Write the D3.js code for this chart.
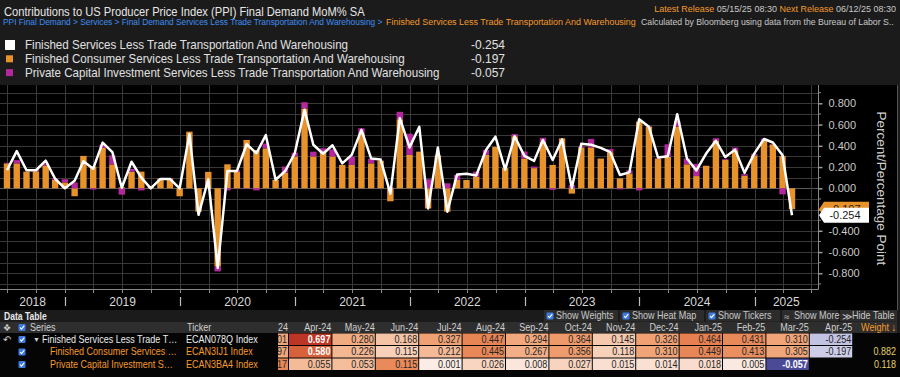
<!DOCTYPE html>
<html>
<head>
<meta charset="utf-8">
<script src="https://cdn.jsdelivr.net/npm/d3@7"></script>
<style>
body { margin: 0; background: #1b1b1b; overflow: hidden; }
svg { display: block; }
text { font-family: "Liberation Sans", Arial, sans-serif; }
</style>
</head>
<body>
<script>
// monthly data points, plotted at month end
const months = [
    "2018-06", "2018-07", "2018-08", "2018-09", "2018-10", "2018-11", "2018-12",
    "2019-01", "2019-02", "2019-03", "2019-04", "2019-05", "2019-06", "2019-07", "2019-08", "2019-09", "2019-10", "2019-11", "2019-12",
    "2020-01", "2020-02", "2020-03", "2020-04", "2020-05", "2020-06", "2020-07", "2020-08", "2020-09", "2020-10", "2020-11", "2020-12",
    "2021-01", "2021-02", "2021-03", "2021-04", "2021-05", "2021-06", "2021-07", "2021-08", "2021-09", "2021-10", "2021-11", "2021-12",
    "2022-01", "2022-02", "2022-03", "2022-04", "2022-05", "2022-06", "2022-07", "2022-08", "2022-09", "2022-10", "2022-11", "2022-12",
    "2023-01", "2023-02", "2023-03", "2023-04", "2023-05", "2023-06", "2023-07", "2023-08", "2023-09", "2023-10", "2023-11", "2023-12",
    "2024-01", "2024-02", "2024-03", "2024-04", "2024-05", "2024-06", "2024-07", "2024-08", "2024-09", "2024-10", "2024-11", "2024-12",
    "2025-01", "2025-02", "2025-03", "2025-04"
];

// Finished Services Less Trade Transportation And Warehousing (white line)
const total = [
    0.17, 0.35, 0.17, 0.17, 0.26, 0.09, 0.0,
    0.07, 0.255, 0.185, 0.43, 0.34, 0.005, 0.25, 0.10, 0.0, 0.088, 0.088, 0.0,
    0.51, -0.25, 0.085, -0.75, 0.163, 0.163, 0.415, 0.33, 0.5, 0.08, 0.16, 0.33,
    0.74, 0.41, 0.325, 0.405, 0.235, 0.315, 0.55, 0.28, 0.27, -0.05, 0.66, 0.385,
    0.578, -0.19, 0.385, -0.22, 0.13, 0.137, 0.12, 0.36, 0.486, 0.175, 0.49, 0.305,
    0.258, 0.455, 0.267, 0.46, 0.003, 0.42, 0.41, 0.38, 0.34, 0.125, 0.15, 0.65,
    0.58, 0.29, 0.301, 0.697, 0.280, 0.168, 0.327, 0.447, 0.294, 0.364, 0.145, 0.326,
    0.464, 0.431, 0.310, -0.254
];

// Finished Consumer Services Less Trade Transportation And Warehousing (orange)
const consumer = [
    0.235, 0.235, 0.157, 0.16, 0.215, 0.08, 0.055,
    -0.075, 0.305, 0.205, 0.38, 0.225, 0.01, 0.157, 0.157, 0.01, 0.092, 0.092, -0.075,
    0.533, -0.22, 0.155, -0.737, 0.226, 0.155, 0.455, 0.36, 0.376, 0.08, 0.145, 0.30,
    0.75, 0.30, 0.35, 0.30, 0.22, 0.22, 0.518, 0.235, 0.26, -0.122, 0.65, 0.314,
    0.345, -0.19, 0.31, -0.22, 0.078, 0.078, 0.11, 0.314, 0.39, 0.19, 0.49, 0.28,
    0.19, 0.44, 0.22, 0.47, -0.05, 0.385, 0.385, 0.28, 0.34, 0.094, 0.14, 0.627,
    0.58, 0.28, 0.297, 0.580, 0.226, 0.115, 0.212, 0.445, 0.267, 0.356, 0.118, 0.310,
    0.449, 0.413, 0.305, -0.197
];

// Private Capital Investment Services Less Trade Transportation And Warehousing (magenta)
const capital = [
    0.005, 0.03, 0.0, 0.02, 0.015, 0.015, 0.03,
    0.055, 0.0, -0.012, 0.03, 0.085, -0.06, 0.025, -0.02, 0.0, 0.0, 0.005, 0.0,
    0.0, 0.0, 0.0, -0.045, -0.02, 0.015, -0.005, -0.02, 0.045, 0.0, 0.06, 0.035,
    0.06, 0.045, 0.027, 0.066, 0.0, 0.078, 0.047, 0.043, 0.0, 0.01, 0.07,
    0.2, 0.0, 0.085, 0.0, 0.047, 0.047, 0.0, 0.047, 0.047, 0.0, 0.0, 0.02,
    0.066, 0.015, 0.035, -0.015, 0.0, 0.03, 0.01, 0.08, 0.0, 0.03, -0.01, 0.03,
    -0.02, 0.005, 0.004, 0.117, 0.055, 0.053, 0.115, 0.001, 0.026, 0.008, 0.027, 0.015,
    0.014, 0.018, 0.005, -0.057
];

const seriesNames = [
    "Finished Services Less Trade Transportation And Warehousing",
    "Finished Consumer Services Less Trade Transportation And Warehousing",
    "Private Capital Investment Services Less Trade Transportation And Warehousing"
];
const shortNames = ["Finished Services Less Trade T\u2026", "Finished Consumer Services \u2026", "Private Capital Investment S\u2026"];
const tickers = ["ECAN078Q Index", "ECAN3IJ1 Index", "ECAN3BA4 Index"];
const weights = [null, 0.882, 0.118];
const yTicks = [-0.8, -0.6, -0.4, -0.2, 0, 0.2, 0.4, 0.6, 0.8];
const gridTicks = [-0.9, -0.8, -0.7, -0.6, -0.5, -0.4, -0.3, -0.2, -0.1, 0, 0.1, 0.2, 0.3, 0.4, 0.5, 0.6, 0.7, 0.8, 0.9];
const tableFrom = "2024-03";

const ORANGE = "#e8922c", MAGENTA = "#b5279d", HEAD_ORANGE = "#f39a2b";

const parseMonth = d3.utcParse("%Y-%m");
const monthEnd = m => d3.utcDay.offset(d3.utcMonth.offset(parseMonth(m), 1), -1);
const fmt3 = d3.formatLocale({ decimal: ".", thousands: ",", grouping: [3], currency: ["$", ""], minus: "-" }).format(".3f");

// no condensed font installed, so narrow the text horizontally around its anchor
function squeeze(sel, f) {
    sel.each(function () {
        const t = d3.select(this);
        const x0 = +t.attr("x");
        const k = typeof f === "function" ? f(this) : f;
        t.attr("transform", `translate(${x0 * (1 - k)},0) scale(${k},1)`);
    });
    return sel;
}

const data = months.map((m, i) => ({ date: monthEnd(m), month: m, total: total[i], consumer: consumer[i], capital: capital[i] }));

const svg = d3.select("body").append("svg").attr("width", 900).attr("height", 377);

svg.append("rect").attr("width", 900).attr("height", 377).attr("fill", "#1b1b1b");

// ---------- header ----------
squeeze(svg.append("text").attr("x", 4).attr("y", 16).attr("font-size", 12).attr("fill", "#e6e6e6")
    .text("Contributions to US Producer Price Index (PPI) Final Demand MoM% SA"), 0.93);

const crumbs = [
    { x: 3, w: 380, fill: "#3f8ef0", text: "PPI Final Demand > Services > Final Demand Services Less Trade Transportation And Warehousing >" },
    { x: 386, w: 250, fill: HEAD_ORANGE, text: "Finished Services Less Trade Transportation And Warehousing" },
    { x: 641, w: 253, fill: "#c8c8c8", text: "Calculated by Bloomberg using data from the Bureau of Labor S.." }
];
const crumbText = svg.append("g").selectAll("text").data(crumbs).join("text")
    .attr("x", d => d.x).attr("y", 25.5).attr("font-size", 9)
    .attr("fill", d => d.fill)
    .text(d => d.text);
squeeze(crumbText, node => d3.select(node).datum().w / node.getComputedTextLength());

const rel = svg.append("text").attr("x", 896).attr("y", 12).attr("font-size", 9).attr("text-anchor", "end");
rel.append("tspan").attr("fill", HEAD_ORANGE).text("Latest Release");
rel.append("tspan").attr("fill", "#c8c8c8").text(" 05/15/25 08:30  ");
rel.append("tspan").attr("fill", HEAD_ORANGE).text("Next Release");
rel.append("tspan").attr("fill", "#c8c8c8").text(" 06/12/25 08:30");

// ---------- legend ----------
const legendColors = ["#ffffff", ORANGE, MAGENTA];
const legendLast = [total, consumer, capital].map(a => a[a.length - 1]);
const legend = svg.append("g");
seriesNames.forEach((name, i) => {
    const cy = 45 + i * 13.8;
    const s = i === 0 ? 10 : 7;
    legend.append("rect").attr("x", i === 0 ? 5 : 6).attr("y", cy - s / 2).attr("width", s).attr("height", s).attr("fill", legendColors[i]);
    squeeze(legend.append("text").attr("x", 25).attr("y", cy + 4.3).attr("font-size", 12).attr("fill", "#e0e0e0").text(name), 0.965);
    legend.append("text").attr("x", 471).attr("y", cy + 4.3).attr("font-size", 12).attr("fill", "#e0e0e0").text(fmt3(legendLast[i]));
});

// ---------- chart ----------
const plot = { left: 0, right: 818, top: 85, bottom: 289 };
svg.append("rect").attr("x", 0).attr("y", plot.top).attr("width", 897).attr("height", 225).attr("fill", "#000");
svg.append("line").attr("x1", 897.5).attr("x2", 897.5).attr("y1", plot.top).attr("y2", 310).attr("stroke", "#555");

const x = d3.scaleUtc()
    .domain([monthEnd("2018-06"), monthEnd("2025-04")])
    .range([7, 792]);
const y = d3.scaleLinear().domain([-0.8, 0.8]).range([273.3, 103.3]);

svg.append("clipPath").attr("id", "plot-clip").append("rect")
    .attr("x", plot.left).attr("y", plot.top).attr("width", plot.right - plot.left).attr("height", plot.bottom - plot.top);
const g = svg.append("g").attr("clip-path", "url(#plot-clip)");

const quarters = d3.utcMonth.every(3).range(d3.utcMonth.offset(x.domain()[0], -3), d3.utcMonth.offset(x.domain()[1], 4))
    .filter(d => x(d) >= plot.left && x(d) <= plot.right);

g.append("g").selectAll("line").data(gridTicks).join("line")
    .attr("x1", plot.left).attr("x2", plot.right)
    .attr("y1", d => Math.round(y(d)) + 0.5).attr("y2", d => Math.round(y(d)) + 0.5)
    .attr("stroke", d => d === 0 ? "#5a5a5a" : "#393939").attr("stroke-width", 1);

g.append("g").selectAll("line").data(quarters).join("line")
    .attr("x1", d => Math.round(x(d)) + 0.5).attr("x2", d => Math.round(x(d)) + 0.5)
    .attr("y1", plot.top).attr("y2", plot.bottom)
    .attr("stroke", "#393939");

const stack = d3.stack().keys(["consumer", "capital"]).offset(d3.stackOffsetDiverging);
const layers = stack(data);
const barW = 6.4;
g.append("g").selectAll("g").data(layers).join("g")
    .attr("fill", (d, i) => i === 0 ? ORANGE : MAGENTA)
    .selectAll("rect").data(d => d).join("rect")
    .attr("x", d => x(d.data.date) - barW / 2)
    .attr("width", barW)
    .attr("y", d => y(Math.max(d[0], d[1])))
    .attr("height", d => Math.abs(y(d[0]) - y(d[1])));

g.append("path").datum(data)
    .attr("fill", "none").attr("stroke", "#ffffff").attr("stroke-width", 2.5)
    .attr("stroke-linejoin", "round")
    .attr("d", d3.line().x(d => x(d.date)).y(d => y(d.total)));

// frame
svg.append("path")
    .attr("d", `M${plot.left},${plot.bottom + 0.5}H${plot.right + 0.5}V${plot.top}`)
    .attr("fill", "none").attr("stroke", "#8a8a8a");

// right axis
const yAxis = svg.append("g").attr("transform", `translate(${plot.right + 0.5},0)`)
    .call(d3.axisRight(y).tickValues(yTicks).tickFormat(fmt3).tickSize(4).tickPadding(6));
yAxis.select(".domain").remove();
yAxis.selectAll(".tick line").attr("stroke", "#9a9a9a").attr("stroke-width", 1.5);
yAxis.selectAll(".tick text").attr("fill", "#c8c8c8").attr("font-size", 11)
    .attr("font-family", "\"Liberation Sans\", Arial, sans-serif");
svg.append("g").selectAll("line").data(gridTicks.filter(v => !yTicks.includes(v))).join("line")
    .attr("x1", plot.right).attr("x2", plot.right + 3)
    .attr("y1", d => y(d)).attr("y2", d => y(d))
    .attr("stroke", "#8a8a8a");

svg.append("text")
    .attr("transform", `translate(877,${y(0)}) rotate(90)`)
    .attr("text-anchor", "middle").attr("font-size", 13.5).attr("fill", "#d0d0d0")
    .text("Percent/Percentage Point");

// last value tags (white one drawn over the orange one, as in the terminal)
const tags = [
    { v: consumer[consumer.length - 1], fill: ORANGE },
    { v: total[total.length - 1], fill: "#ffffff" }
];
tags.forEach(t => {
    const cy = y(t.v);
    svg.append("path")
        .attr("d", `M${plot.right + 1},${cy}L${plot.right + 6},${cy - 7.5}H869V${cy + 7.5}H${plot.right + 6}Z`)
        .attr("fill", t.fill);
    svg.append("text").attr("x", 845).attr("y", cy + 4).attr("text-anchor", "middle")
        .attr("font-size", 11).attr("fill", "#1a1a1a").text(fmt3(t.v));
});

// bottom axis
svg.append("g").selectAll("line").data(quarters).join("line")
    .attr("x1", d => Math.round(x(d)) + 0.5).attr("x2", d => Math.round(x(d)) + 0.5)
    .attr("y1", plot.bottom).attr("y2", plot.bottom + 4)
    .attr("stroke", "#8a8a8a");

const years = d3.utcYear.range(d3.utcYear.floor(x.domain()[0]), d3.utcYear.offset(x.domain()[1], 1))
    .filter(d => x(d) < plot.right);
const yearStarts = years.slice(1);
svg.append("g").selectAll("line").data(yearStarts).join("line")
    .attr("x1", d => Math.round(x(d)) + 0.5).attr("x2", d => Math.round(x(d)) + 0.5)
    .attr("y1", 297).attr("y2", 306)
    .attr("stroke", "#bdbdbd").attr("stroke-width", 1.2);
svg.append("g").selectAll("text").data(years).join("text")
    .attr("x", d => (Math.max(plot.left, x(d)) + Math.min(plot.right, x(d3.utcYear.offset(d, 1)))) / 2)
    .attr("y", 306).attr("text-anchor", "middle").attr("font-size", 12).attr("fill", "#d8d8d8")
    .text(d3.utcFormat("%Y"));

// ---------- data table ----------
const NARROW = 0.86;
const tbl = svg.append("g");
tbl.append("rect").attr("x", 0).attr("y", 333).attr("width", 900).attr("height", 44).attr("fill", "#050505");
squeeze(tbl.append("text").attr("x", 4).attr("y", 320.5).attr("font-size", 10).attr("font-weight", "bold")
    .attr("fill", "#e8e8e8").text("Data Table"), 0.86);

function checkbox(parent, cx, cy) {
    parent.append("rect").attr("x", cx - 3.5).attr("y", cy - 3.5).attr("width", 7).attr("height", 7)
        .attr("rx", 1).attr("fill", "#3c7ae0");
    parent.append("path").attr("d", `M${cx - 2},${cy}L${cx - 0.5},${cy + 1.7}L${cx + 2.3},${cy - 1.8}`)
        .attr("fill", "none").attr("stroke", "#fff").attr("stroke-width", 1.1);
}

const buttons = [
    { x: 544, w: 74, label: "Show Weights", box: true },
    { x: 620, w: 84, label: "Show Heat Map", box: true },
    { x: 706, w: 74, label: "Show Tickers", box: true },
    { x: 782, w: 56, label: "Show More", icon: "\u2248" },
    { x: 840, w: 57, label: "Hide Table", icon: "\u226B" }
];
buttons.forEach(b => {
    tbl.append("rect").attr("x", b.x).attr("y", 310).attr("width", b.w).attr("height", 11.5).attr("fill", "#2c2c2c");
    if (b.box) checkbox(tbl, b.x + 6, 316);
    else tbl.append("text").attr("x", b.x + 2).attr("y", 319.5).attr("font-size", 9.5).attr("fill", "#c8c8c8").text(b.icon);
    squeeze(tbl.append("text").attr("x", b.x + 12).attr("y", 319.5).attr("font-size", 10.5)
        .attr("fill", "#c8c8c8").text(b.label), NARROW);
});

// header row
tbl.append("rect").attr("x", 0).attr("y", 322).attr("width", 897).attr("height", 11).attr("fill", "#2e2e2e");
tbl.append("text").attr("x", 2.5).attr("y", 331).attr("font-size", 9).attr("fill", "#d0d0d0")
    .attr("font-family", "\"DejaVu Sans\", sans-serif").text("\u2756");
checkbox(tbl, 22, 327.5);
squeeze(tbl.append("text").attr("x", 30).attr("y", 331).attr("font-size", 10.5).attr("fill", "#d0d0d0").text("Series"), NARROW);
squeeze(tbl.append("text").attr("x", 187).attr("y", 331).attr("font-size", 10.5).attr("fill", "#d0d0d0").text("Ticker"), NARROW);

const startIdx = months.indexOf(tableFrom);
const tableMonths = months.slice(startIdx);
const colRight = j => 288 + 43.4 * j;
const colFmt = d3.utcFormat("%b-%y");

svg.append("clipPath").attr("id", "table-clip").append("rect")
    .attr("x", 278).attr("y", 300).attr("width", 622).attr("height", 77);
const cells = tbl.append("g").attr("clip-path", "url(#table-clip)");

squeeze(cells.selectAll("text.colhead").data(tableMonths).join("text")
    .attr("class", "colhead")
    .attr("x", (d, j) => colRight(j)).attr("y", 331).attr("text-anchor", "end")
    .attr("font-size", 10.5).attr("fill", "#d0d0d0")
    .text(d => colFmt(parseMonth(d))), NARROW);
squeeze(tbl.append("text").attr("x", 896).attr("y", 331).attr("text-anchor", "end")
    .attr("font-size", 10.5).attr("fill", HEAD_ORANGE).text("Weight \u2193"), NARROW);

const rowSeries = [total, consumer, capital];
const posRamp = d3.interpolateRgbBasis(["#fbeee8", "#f5bd9c", "#ee9966", "#df6a3c", "#b3261e"]);
const negRamp = d3.interpolateRgbBasis(["#f2f2fa", "#c4c4e4", "#8f8fc6", "#3e3e8e"]);

rowSeries.forEach((arr, r) => {
    const top = 333.5 + r * 12.5;
    const base = top + 9.3;
    const maxV = d3.max(arr), minV = d3.min(arr);
    const heat = v => v >= 0 ? { c: posRamp(v / maxV), t: v / maxV } : { c: negRamp(v / minV), t: v / minV };
    const txtColor = r === 0 ? "#ececec" : HEAD_ORANGE;

    if (r === 0) {
        tbl.append("text").attr("x", 3).attr("y", base).attr("font-size", 10).attr("fill", "#d0d0d0")
            .attr("font-family", "\"DejaVu Sans\", sans-serif").text("\u21B6");
        tbl.append("text").attr("x", 33).attr("y", base - 0.5).attr("font-size", 7).attr("fill", "#d0d0d0").text("\u25BC");
    }
    checkbox(tbl, 22, top + 6);
    squeeze(tbl.append("text").attr("x", r === 0 ? 42 : 50).attr("y", base)
        .attr("font-size", 10.5).attr("fill", txtColor).text(shortNames[r]), NARROW);
    squeeze(tbl.append("text").attr("x", 186).attr("y", base)
        .attr("font-size", 10.5).attr("fill", txtColor).text(tickers[r]), NARROW);

    const vals = arr.slice(startIdx);
    cells.selectAll(null).data(vals).join("rect")
        .attr("x", (d, j) => colRight(j) - 42.4).attr("y", top)
        .attr("width", 42.4).attr("height", 11.5)
        .attr("fill", d => heat(d).c);
    squeeze(cells.selectAll(null).data(vals).join("text")
        .attr("x", (d, j) => colRight(j) - 1).attr("y", base)
        .attr("text-anchor", "end").attr("font-size", 10.5)
        .attr("font-weight", d => heat(d).t > 0.72 ? "bold" : "normal")
        .attr("fill", d => heat(d).t > 0.72 ? "#ffffff" : "#262626")
        .text(d => fmt3(d)), NARROW);

    if (weights[r] !== null) {
        squeeze(tbl.append("text").attr("x", 896).attr("y", base).attr("text-anchor", "end")
            .attr("font-size", 10.5).attr("fill", "#e3cf6a").text(fmt3(weights[r])), NARROW);
    }
});
</script>
</body>
</html>
